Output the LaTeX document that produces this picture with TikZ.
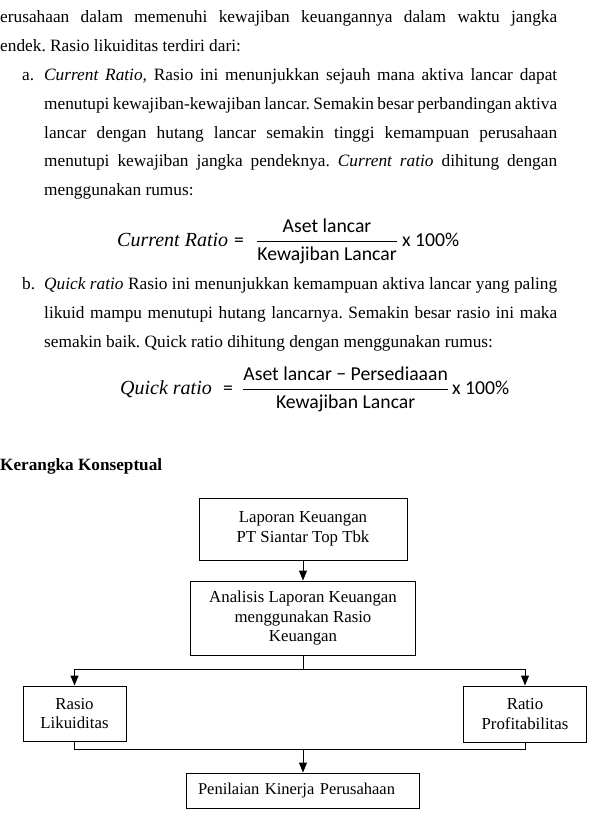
\documentclass[tikz,border=0pt]{standalone}
\usepackage{amsmath}
\usepackage{fontspec}
\setmainfont{Liberation Serif}
\newfontfamily\eqfont{Carlito}
\usetikzlibrary{arrows.meta}
\frenchspacing
\begin{document}
\begin{tikzpicture}[x=1pt,y=-1pt,
  body/.style={anchor=base west, inner sep=0pt, font=\fontsize{17.3}{21}\selectfont},
  eqtxt/.style={anchor=base west, inner sep=0pt, font=\eqfont\fontsize{19.7}{23}\selectfont},
  eqit/.style={anchor=base west, inner sep=0pt, font=\fontsize{20}{23}\selectfont\itshape},
  box/.style={draw, line width=1pt, align=center, inner sep=0pt, font=\fontsize{16.8}{19.8}\selectfont},
  conn/.style={line width=1pt},
  arr/.style={line width=1pt, -{Triangle[length=10pt,width=8pt]}}
]
\useasboundingbox (0,0) rectangle (591,815);

% body text
\node[body] (l1) at (0,22) {\makebox[557pt][s]{erusahaan dalam memenuhi kewajiban keuangannya dalam waktu jangka}};
\node[body] (l2) at (0,51) {endek. Rasio likuiditas terdiri dari:};
\node[body] (la) at (22,80) {a.};
\node[body] (l3) at (44,80) {\makebox[513pt][s]{\textit{Current Ratio,} Rasio ini menunjukkan sejauh mana aktiva lancar dapat}};
\node[body] (l4) at (44,109) {\makebox[513pt][s]{menutupi kewajiban-kewajiban lancar. Semakin besar perbandingan aktiva}};
\node[body] (l5) at (44,138) {\makebox[513pt][s]{lancar dengan hutang lancar semakin tinggi kemampuan perusahaan}};
\node[body] (l6) at (44,166.5) {\makebox[513pt][s]{menutupi kewajiban jangka pendeknya. \textit{Current ratio} dihitung dengan}};
\node[body] (l7) at (44,195) {menggunakan rumus:};

% formula 1
\node[eqit] (crl) at (117,246.5) {Current Ratio};
\node[eqtxt] (cre) at (234,246.5) {=};
\node[eqtxt] (crf) at (256,246.5) {$\dfrac{\mbox{Aset lancar}}{\mbox{Kewajiban Lancar}}$};
\node[eqtxt] (crx) at (402,246.5) {x 100\%};

\node[body] (lb) at (22,289) {b.};
\node[body] (l8) at (44,289) {\makebox[513pt][s]{\textit{Quick ratio} Rasio ini menunjukkan kemampuan aktiva lancar yang paling}};
\node[body] (l9) at (44,318) {\makebox[513pt][s]{likuid mampu menutupi hutang lancarnya. Semakin besar rasio ini maka}};
\node[body] (l10) at (44,347) {semakin baik. Quick ratio dihitung dengan menggunakan rumus:};

% formula 2
\node[eqit] (qrl) at (120,394.5) {Quick ratio};
\node[eqtxt] (qre) at (223,394.5) {=};
\node[eqtxt] (qrf) at (242,394.5) {$\dfrac{\mbox{Aset lancar − Persediaaan}}{\mbox{Kewajiban Lancar}}$};
\node[eqtxt] (qrx) at (452,394.5) {x 100\%};

\node[body, font=\fontsize{17.2}{20}\selectfont\bfseries] (kk) at (0,470) {Kerangka Konseptual};

% diagram
\node[box, minimum width=208pt, minimum height=62pt] (b1) at (303,529) {Laporan Keuangan\\PT Siantar Top Tbk};
\node[box, minimum width=225pt, minimum height=74pt] (b2) at (303,618) {Analisis Laporan Keuangan\\menggunakan Rasio\\Keuangan};
\node[box, minimum width=103pt, minimum height=55pt] (lk) at (74.5,713.5) {Rasio\\Likuiditas};
\node[box, minimum width=123pt, minimum height=56pt] (pf) at (525,714) {Ratio\\Profitabilitas};
\node[box, align=left, text width=210pt, inner xsep=11.5pt, minimum height=35pt, font=\fontsize{16.5}{19.8}\selectfont] (pk) at (303,790.5) {Penilaian Kinerja Perusahaan};

\coordinate (splitY) at (303,669);
\coordinate (mergeY) at (303,749);

\draw[arr] (b1.south) -- (b2.north);
\draw[conn] (b2.south) -- (splitY);
\draw[arr] (splitY) -| (lk.north);
\draw[arr] (splitY) -| (pf.north);
\draw[conn] (lk.south) |- (mergeY) -| (pf.south);
\draw[arr] (mergeY) -- (pk.north);
\end{tikzpicture}
\end{document}
